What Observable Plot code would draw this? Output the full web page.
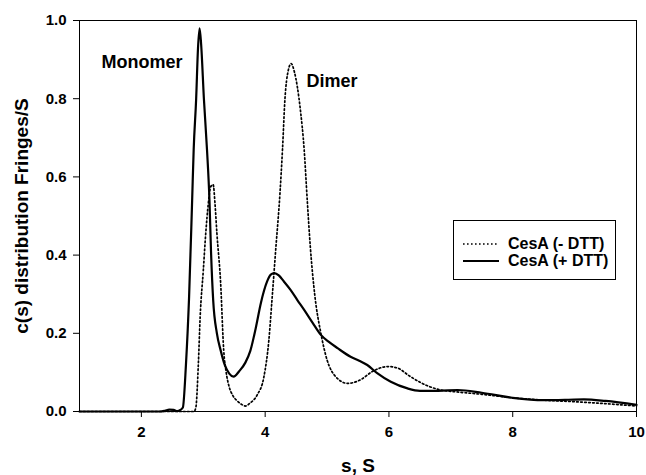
<!DOCTYPE html>
<html>
<head>
<meta charset="utf-8">
<script src="https://cdn.jsdelivr.net/npm/d3@7"></script>
<script src="https://cdn.jsdelivr.net/npm/@observablehq/plot@0.6"></script>
<style>
  html, body { margin: 0; padding: 0; background: white; }
  #wrap { position: relative; width: 646px; height: 475px; font-family: "Liberation Sans", Arial, sans-serif; font-weight: bold; }
  #legend { position: absolute; left: 453px; top: 220px; width: 163px; height: 60px; border: 1px solid black; background: white; box-sizing: border-box; }
  #legend .row { position: absolute; left: 0; height: 18px; display: flex; align-items: center; font-size: 16px; white-space: nowrap; }
  #legend svg { margin-left: 9px; margin-right: 9px; }
</style>
</head>
<body>
<div id="wrap">
  <div id="legend"></div>
</div>
<script>
// Series: CesA with DTT (solid line)
const plusS = [1.0, 2.3, 2.38, 2.45, 2.52, 2.58, 2.63, 2.67, 2.72, 2.77, 2.82, 2.845, 2.885, 2.915, 2.94, 2.965, 3.01, 3.06, 3.1, 3.125, 3.16, 3.22, 3.28, 3.35, 3.42, 3.49, 3.58, 3.68, 3.76, 3.85, 3.93, 4.03, 4.09, 4.15, 4.22, 4.3, 4.41, 4.52, 4.63, 4.77, 4.9, 5.03, 5.17, 5.38, 5.52, 5.65, 5.81, 6.03, 6.3, 6.5, 6.8, 7.11, 7.5, 8.0, 8.5, 8.9, 9.15, 9.5, 10];
const plusC = [0, 0, 0.002, 0.005, 0.004, 0.001, 0.004, 0.01, 0.12, 0.29, 0.54, 0.67, 0.8, 0.93, 0.98, 0.94, 0.8, 0.67, 0.54, 0.41, 0.285, 0.2, 0.157, 0.118, 0.097, 0.089, 0.103, 0.125, 0.155, 0.215, 0.277, 0.332, 0.35, 0.354, 0.348, 0.333, 0.311, 0.285, 0.26, 0.226, 0.196, 0.178, 0.162, 0.14, 0.13, 0.119, 0.098, 0.076, 0.059, 0.053, 0.053, 0.055, 0.048, 0.035, 0.029, 0.03, 0.031, 0.027, 0.017];

// Series: CesA without DTT (dotted line)
const minusS = [1.0, 2.85, 2.88, 2.92, 2.95, 3.0, 3.04, 3.08, 3.12, 3.16, 3.19, 3.22, 3.28, 3.33, 3.37, 3.41, 3.48, 3.55, 3.62, 3.68, 3.76, 3.87, 3.98, 4.06, 4.11, 4.17, 4.24, 4.28, 4.32, 4.37, 4.42, 4.47, 4.52, 4.57, 4.63, 4.68, 4.73, 4.8, 4.9, 5.0, 5.14, 5.33, 5.54, 5.73, 5.98, 6.14, 6.33, 6.5, 6.65, 6.84, 7.1, 7.5, 8.0, 8.5, 9.0, 9.5, 10];
const minusC = [0, 0, 0.01, 0.12, 0.243, 0.36, 0.456, 0.53, 0.575, 0.58, 0.53, 0.456, 0.33, 0.157, 0.1, 0.068, 0.04, 0.027, 0.018, 0.014, 0.022, 0.042, 0.089, 0.183, 0.285, 0.413, 0.56, 0.67, 0.8, 0.87, 0.89, 0.87, 0.83, 0.77, 0.67, 0.54, 0.42, 0.3, 0.2, 0.132, 0.089, 0.072, 0.081, 0.102, 0.115, 0.111, 0.091, 0.075, 0.064, 0.055, 0.05, 0.044, 0.035, 0.029, 0.025, 0.02, 0.014];

const seriesNames = ["CesA (- DTT)", "CesA (+ DTT)"];
const xTicks = [2, 4, 6, 8, 10];
const yTicks = [0, 0.2, 0.4, 0.6, 0.8, 1.0];
const xLabel = "s, S";
const yLabel = "c(s) distribution Fringes/S";
const annotationText = ["Monomer", "Dimer"];
const annotationS = [2.01, 5.08];
const annotationC = [0.894, 0.845];

const plusData = plusS.map((s, i) => ({s, c: plusC[i]}));
const minusData = minusS.map((s, i) => ({s, c: minusC[i]}));
const annotations = annotationText.map((t, i) => ({t, s: annotationS[i], c: annotationC[i]}));

const chart = Plot.plot({
  width: 646,
  height: 475,
  marginLeft: 79,
  marginRight: 10,
  marginTop: 20,
  marginBottom: 64,
  style: {fontFamily: '"Liberation Sans", Arial, sans-serif', fontWeight: "bold", background: "white", color: "black"},
  x: {domain: [1, 10]},
  y: {domain: [0, 1]},
  marks: [
    Plot.line(minusData, {x: "s", y: "c", curve: "monotone-x", stroke: "black", strokeWidth: 1.7, strokeDasharray: "1.6,2.4"}),
    Plot.line(plusData, {x: "s", y: "c", curve: "monotone-x", stroke: "black", strokeWidth: 2.2}),
    Plot.text(annotations, {x: "s", y: "c", text: "t", fontSize: 18, fontWeight: "bold", fill: "black"}),
    Plot.frame({stroke: "black", strokeWidth: 1}),
    Plot.axisX({ticks: xTicks, tickFormat: d => String(d), tickSize: 6, tickPadding: 9, fontSize: 15, label: null}),
    Plot.axisY({ticks: yTicks, tickFormat: d => d.toFixed(1), tickSize: 6, tickPadding: 7, fontSize: 15, label: null}),
    Plot.text([xLabel], {frameAnchor: "bottom", text: d => d, dy: 54, fontSize: 19, fontWeight: "bold", lineAnchor: "middle", textAnchor: "middle"}),
    Plot.text([yLabel], {frameAnchor: "left", text: d => d, rotate: -90, dx: -58, fontSize: 19, fontWeight: "bold", lineAnchor: "middle", textAnchor: "middle"})
  ]
});
const wrap = document.getElementById("wrap");
wrap.insertBefore(chart, wrap.firstChild);

// Legend
const legend = document.getElementById("legend");
const legendTops = [23, 40];
seriesNames.forEach((name, i) => {
  const row = document.createElement("div");
  row.className = "row";
  row.style.top = (legendTops[i] - 9) + "px";
  const dash = i === 0 ? 'stroke-dasharray="1.6,2.4" stroke-width="1.5"' : 'stroke-width="2.2"';
  row.innerHTML = `<svg width="36" height="6"><line x1="0" y1="3" x2="36" y2="3" stroke="black" ${dash}/></svg><span>${name}</span>`;
  legend.appendChild(row);
});
</script>
</body>
</html>
